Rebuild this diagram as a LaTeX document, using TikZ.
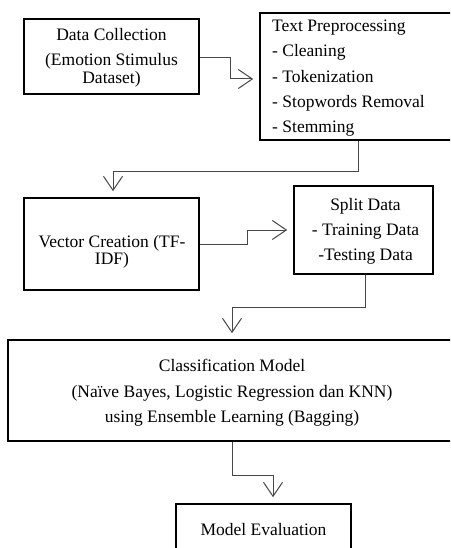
\documentclass[tikz,border=0pt]{standalone}
\usepackage{fontspec}
\setmainfont{Liberation Serif}
\usetikzlibrary{arrows.meta}

\tikzset{
  box/.style={draw=black, line width=1.6pt, inner sep=0pt, fill=white},
  txt/.style={font=\fontsize{17.5}{21}\selectfont, inner sep=0pt, anchor=base},
  ltxt/.style={txt, anchor=base west},
  conn/.style={draw=black!72, line width=1pt,
    -{Straight Barb[length=14pt, width=19pt, line width=1pt]}, shorten >=6pt},
}

\begin{document}
\begin{tikzpicture}[x=1pt, y=-1pt]
  \useasboundingbox (0,0) rectangle (450,548);
  \fill[white] (0,0) rectangle (450,548);
  \clip (0,0) rectangle (450,548);

  % boxes
  \node[box, minimum width=175pt, minimum height=75pt]  (b1) at (111.5,56.5) {};
  \node[box, minimum width=200pt, minimum height=127pt] (b2) at (360,76.5) {};
  \node[box, minimum width=175pt, minimum height=92pt]  (b3) at (111.5,244) {};
  \node[box, minimum width=139pt, minimum height=88pt]  (b4) at (363.5,230) {};
  \node[box, minimum width=450pt, minimum height=101pt] (b5) at (233,390.5) {};
  \node[box, minimum width=175pt, minimum height=66pt]  (b6) at (263.5,537) {};

  % Data collection
  \node[txt] (t1a) at (111.5,40.7) {Data Collection};
  \node[txt] (t1b) at (111.5,65.7) {(Emotion Stimulus};
  \node[txt] (t1c) at (111.5,83.2) {Dataset)};

  % Text preprocessing
  \node[ltxt] (t2a) at (272,31.7) {Text Preprocessing};
  \node[ltxt] (t2b) at (272,57)   {- Cleaning};
  \node[ltxt] (t2c) at (272,82.3) {- Tokenization};
  \node[ltxt] (t2d) at (272,107.6) {- Stopwords Removal};
  \node[ltxt] (t2e) at (272,133)  {- Stemming};

  % Vector creation
  \node[txt] (t3a) at (112,247)   {Vector Creation (TF-};
  \node[txt] (t3b) at (112,264.7) {IDF)};

  % Split data
  \node[txt] (t4a) at (365.5,210) {Split Data};
  \node[txt] (t4b) at (365.5,235) {- Training Data};
  \node[txt] (t4c) at (365.5,260) {-Testing Data};

  % Classification model
  \node[txt] (t5a) at (232,371) {Classification Model};
  \node[txt] (t5b) at (232,397) {(Naïve Bayes, Logistic Regression dan KNN)};
  \node[txt] (t5c) at (232,422) {using Ensemble Learning (Bagging)};

  % Model evaluation
  \node[txt] (t6a) at (263.5,535) {Model Evaluation};

  % connectors
  \draw[conn] ([yshift=-1.5pt]b1.east) -- ++(31,0) |- ([yshift=-2.5pt]b2.west);
  \draw[conn] ([xshift=-2pt]b2.south) -- ++(0,31) -| ([xshift=1.5pt]b3.north);
  \draw[conn] (b3.east) -- ++(48,0) |- (b4.west);
  \draw[conn] ([xshift=1.5pt]b4.south) -- ++(0,33) -| ([xshift=-1pt]b5.north);
  \draw[conn] ([xshift=-1pt]b5.south) -- ++(0,34) -| ([xshift=9.5pt]b6.north);
\end{tikzpicture}
\end{document}
